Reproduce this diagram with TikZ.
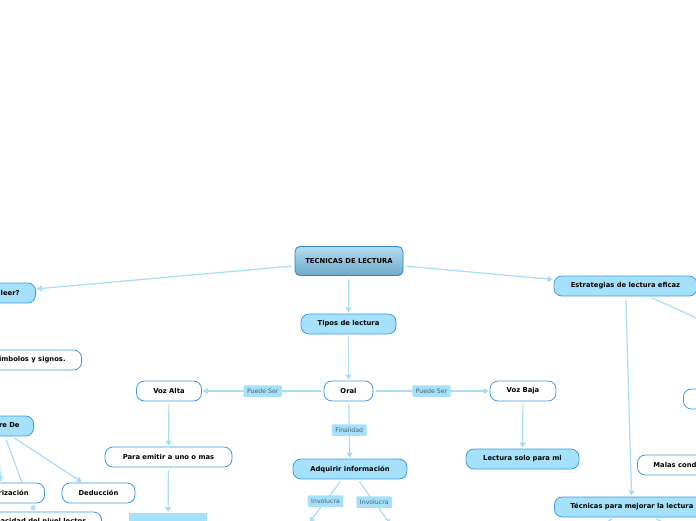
\documentclass[tikz,border=0pt]{standalone}
\usepackage{fontspec}
\setmainfont{DejaVu Sans}
\usetikzlibrary{arrows.meta,positioning}

\definecolor{boxfill}{HTML}{A6E1FC}
\definecolor{boxline}{HTML}{3D9BE0}
\definecolor{linkline}{HTML}{A8DDF7}
\definecolor{tagtext}{HTML}{4F5F6F}
\definecolor{roottop}{HTML}{B2DDF0}
\definecolor{rootbot}{HTML}{6FA9C9}
\definecolor{rootline}{HTML}{2E82BD}

\tikzset{
  topic/.style={draw=boxline, line width=0.8pt, rounded corners=8pt,
    minimum height=20pt, inner xsep=4pt, inner ysep=2pt, text=black,
    font=\fontsize{6.8}{8}\selectfont\bfseries},
  mainbox/.style={topic, fill=boxfill},
  plainbox/.style={topic, fill=white},
  rootbox/.style={topic, draw=rootline, top color=roottop, bottom color=rootbot,
    rounded corners=5pt, minimum height=29pt},
  cutbox/.style={inner xsep=16pt},
  conn/.style={draw=linkline, line width=1.2pt, -{Triangle[width=6pt,length=5pt]},
    shorten >=1pt, shorten <=3pt},
  bare/.style={draw=linkline, line width=1.2pt, shorten <=3pt},
  tag/.style={fill=boxfill, text=tagtext, font=\fontsize{6.2}{7}\selectfont,
    inner xsep=3.5pt, inner ysep=2pt, minimum height=11.5pt, rounded corners=1pt}
}

\begin{document}
\begin{tikzpicture}[x=1pt,y=-1pt]
    \useasboundingbox (0,0) rectangle (696,520);
    \clip (0,0) rectangle (696,520);

    % Main column
    \node[rootbox, minimum width=108pt] (root) at (349,261) {TECNICAS DE LECTURA};
    \node[mainbox, minimum width=95pt] (tipos) at (348.5,324) {Tipos de lectura};
    \node[plainbox, minimum width=49pt] (oral) at (348.5,391) {Oral};
    \node[plainbox, minimum width=65pt] (vozalta) at (169,391) {Voz Alta};
    \node[plainbox, minimum width=66pt] (vozbaja) at (523,391) {Voz Baja};
    \node[mainbox, minimum width=114pt] (adquirir) at (350,469) {Adquirir información};
    \node[plainbox, minimum width=127pt] (emitir) at (168.5,457) {Para emitir a uno o mas};
    \node[mainbox, minimum width=113pt] (solo) at (522.5,459) {Lectura solo para mi};
    \node[fill=boxfill, minimum width=78pt, minimum height=16pt, anchor=north] (emitirhijo) at (168,513) {};

    % Right branch
    \node[mainbox, minimum width=143pt] (estrategias) at (625.5,286) {Estrategias de lectura eficaz};
    \node[mainbox, cutbox, anchor=west] (tecnicas) at (554,507) {Técnicas para mejorar la lectura};
    \node[plainbox, cutbox, anchor=west] (malas) at (637,465) {Malas condiciones};
    \node[plainbox, minimum width=60pt, anchor=west] (derecha) at (683,399) {};
    \coordinate (estrsal) at (750,342);
    \coordinate (teciz) at (560,550);
    \coordinate (tecder) at (720,550);

    % Left branch
    \node[mainbox, cutbox, anchor=east] (leer) at (36,293) {¿Para qué leer?};
    \node[plainbox, cutbox, anchor=east] (simbolos) at (82,360) {Interpretar símbolos y signos.};
    \node[mainbox, cutbox, anchor=east, inner xsep=14pt] (requiere) at (34,426) {Requiere De};
    \node[plainbox, cutbox, anchor=east] (memoria) at (45,493) {Memorización};
    \node[plainbox, minimum width=73pt] (deduccion) at (98.5,493) {Deducción};
    \node[plainbox, cutbox, anchor=east] (capacidad) at (102,522) {Capacidad del nivel lector};

    % Open ends below Adquirir
    \coordinate (adqiz) at (309,523);
    \coordinate (adqder) at (391,525);

    % Connectors
    \draw[conn] (root) -- (tipos);
    \draw[conn] (root) -- (leer);
    \draw[conn] (root) -- (estrategias);
    \draw[conn] (tipos) -- (oral);
    \draw[conn] (oral) -- node[tag] {Puede Ser} (vozalta);
    \draw[conn] (oral) -- node[tag] {Puede Ser} (vozbaja);
    \draw[conn] (oral) -- node[tag] {Finalidad} (adquirir);
    \draw[conn] (vozalta) -- (emitir);
    \draw[conn] (emitir) -- (emitirhijo);
    \draw[conn] (vozbaja) -- (solo);
    \draw[conn] (adquirir) -- node[tag] {Involucra} (adqiz);
    \draw[conn] (adquirir) -- node[tag] {Involucra} (adqder);
    \draw[conn] (estrategias) -- (tecnicas);
    \draw[conn] (estrategias) -- (estrsal);
    \draw[conn] (tecnicas) -- (teciz);
    \draw[conn] (tecnicas) -- (tecder);
    \draw[conn] (requiere) -- (memoria);
    \draw[conn] (requiere) -- (deduccion);
    \draw[bare] ([xshift=9pt]requiere.south) -- ([xshift=20pt]memoria.north);
    \draw[conn] ([xshift=28pt]memoria.south) -- (capacidad.north);
\end{tikzpicture}
\end{document}
